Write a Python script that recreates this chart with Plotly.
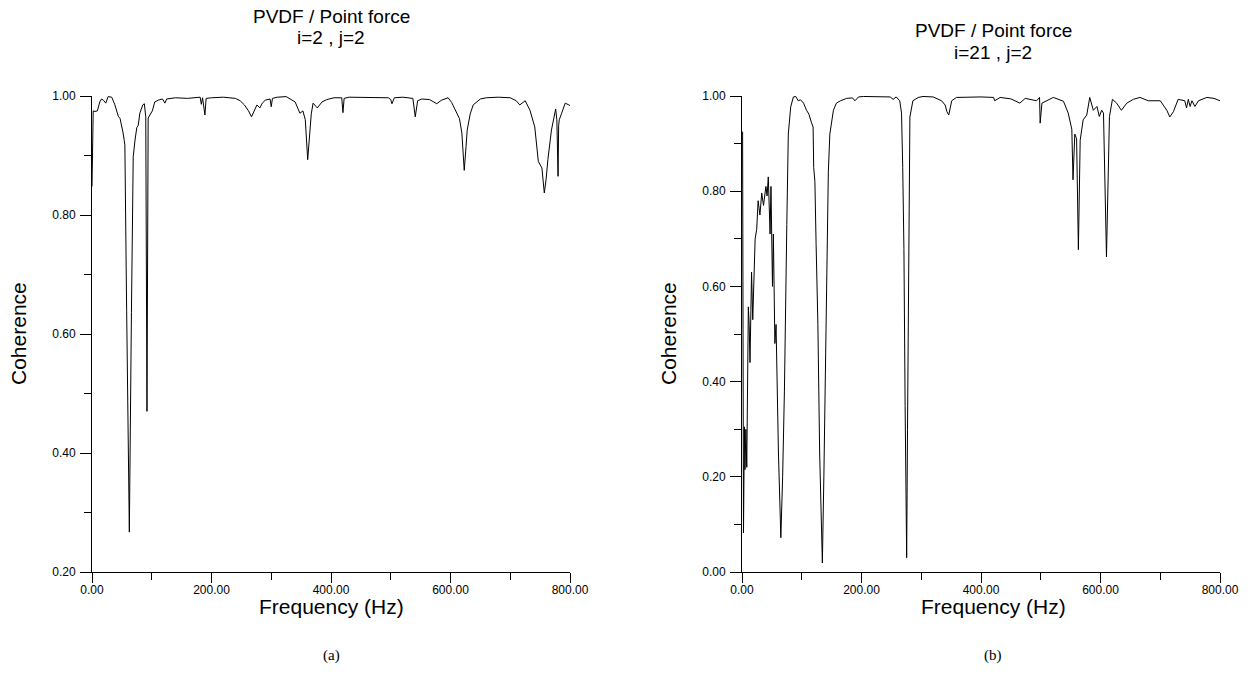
import plotly.graph_objects as go

# ---- data (a): PVDF / Point force, i=2, j=2 ----
freq_a = [0, 1, 2, 5, 9, 13, 16, 19, 23, 27, 33, 38, 44, 47, 50, 52, 54, 55, 58, 62.5, 66, 68, 68.5,
          69, 72, 75, 77.5, 80, 85, 87.6, 90, 92, 94, 97, 101, 105, 111, 118, 122, 125, 140, 160,
          181, 183, 185, 189, 191, 200, 220, 240, 248, 255, 262, 267, 272, 276, 281, 285, 290, 298,
          300, 302, 310, 325, 340, 348, 353, 357, 361, 364, 367, 370, 377, 385, 393, 405, 418, 420,
          422, 430, 450, 475, 496, 500, 502, 506, 520, 537, 541, 545, 552, 565, 577, 585, 596, 602,
          610, 615, 619, 623, 626, 628, 633, 638, 650, 660, 680, 700, 710, 716, 725, 733, 741, 747,
          753, 757, 760, 763, 769, 776, 778, 780, 781, 782, 786, 792, 798, 800]
coh_a = [0.848, 0.974, 0.975, 0.974, 0.975, 0.990, 0.995, 0.993, 0.988, 0.999, 0.998, 0.986, 0.966,
         0.962, 0.949, 0.938, 0.925, 0.918, 0.64, 0.267, 0.636, 0.82, 0.83,
         0.898, 0.926, 0.947, 0.951, 0.971, 0.985, 0.987, 0.965, 0.47, 0.963, 0.968, 0.975, 0.99,
         0.993, 0.995, 0.988, 0.995, 0.997, 0.996,
         0.998, 0.986, 0.997, 0.968, 0.996, 0.997, 0.998, 0.996, 0.992, 0.985, 0.975, 0.965, 0.978,
         0.985, 0.98, 0.988, 0.993, 0.995,
         0.982, 0.996, 0.998, 0.999, 0.99, 0.971, 0.975, 0.96, 0.893, 0.93, 0.97, 0.988, 0.98, 0.99,
         0.994, 0.997, 0.997, 0.972,
         0.996, 0.998, 0.998, 0.997, 0.997, 0.994, 0.987, 0.997, 0.998, 0.996, 0.965, 0.992, 0.995,
         0.994, 0.987, 0.993, 0.997, 0.989,
         0.974, 0.962, 0.938, 0.875, 0.915, 0.943, 0.97, 0.985, 0.995, 0.997, 0.998, 0.997, 0.992,
         0.985, 0.992, 0.976, 0.948, 0.89,
         0.879, 0.837, 0.86, 0.893, 0.943, 0.978, 0.96, 0.865, 0.95, 0.96, 0.971, 0.988, 0.985, 0.984]

# ---- data (b): PVDF / Point force, i=21, j=2 ----
freq_b = [1, 2.5, 4, 5, 6.5, 8, 10.6, 12, 13.4, 16, 18, 20, 22, 24.6, 27, 30, 33, 36, 40, 42, 44, 47,
          48.5, 51, 52.5, 55, 57, 61, 65, 68, 71, 75, 77.5, 81.5, 86, 90, 94, 98, 103, 108, 112, 116,
          119, 120, 122, 124, 127, 130, 134.5, 137, 139, 141.7, 144.5, 147, 150, 153, 158, 165, 175,
          185, 189, 195, 203, 230, 248, 253, 258, 264, 267, 269, 271, 273, 275.6, 277, 278.5, 281,
          286, 295, 303, 320, 334, 340, 343, 346, 351, 359, 400, 421, 423, 432, 450, 465, 474, 493,
          498, 499, 502, 510, 521, 538, 546, 552, 554, 557, 560, 563, 566, 571, 577, 582, 588, 594,
          598, 602, 605, 610, 615, 620, 627, 635, 644, 655, 666, 680, 700, 711, 716, 722, 730, 741,
          744, 747, 750, 753, 758, 764, 778, 790, 800]
coh_b = [0.925, 0.082, 0.305, 0.215, 0.30, 0.22, 0.557, 0.52, 0.44, 0.63, 0.53, 0.60, 0.70, 0.72,
         0.78, 0.75, 0.796, 0.77, 0.81, 0.79, 0.83, 0.71,
         0.81, 0.60, 0.71, 0.48, 0.52, 0.25, 0.072, 0.2, 0.38, 0.73, 0.92, 0.977, 0.998, 0.999, 0.99,
         0.992, 0.985, 0.97, 0.962, 0.945,
         0.935, 0.85, 0.82, 0.69, 0.52, 0.25, 0.019, 0.2, 0.38, 0.677, 0.84, 0.92, 0.95, 0.97, 0.985,
         0.99, 0.995,
         0.996, 0.99, 0.998, 0.999, 0.999, 0.998, 0.993, 0.998, 0.99, 0.964, 0.85, 0.68, 0.35, 0.03,
         0.3, 0.61, 0.956,
         0.99, 0.997, 0.999, 0.998, 0.99, 0.981, 0.967, 0.96, 0.99, 0.997, 0.998, 0.997, 0.99, 0.997,
         0.994, 0.985, 0.995, 0.99,
         0.997, 0.943, 0.985, 0.99, 0.997, 0.989, 0.964, 0.93, 0.824, 0.92, 0.91, 0.677, 0.907, 0.95,
         0.96, 0.997, 0.97, 0.978,
         0.957, 0.97, 0.964, 0.662, 0.957, 0.993, 0.985, 0.97, 0.985, 0.993, 0.997, 0.99, 0.99, 0.97,
         0.956, 0.967, 0.993, 0.99,
         0.975, 0.993, 0.978, 0.99, 0.978, 0.99, 0.997, 0.995, 0.99]

title_line1 = "PVDF / Point force"
title_a_line2 = "i=2 , j=2"
title_b_line2 = "i=21 , j=2"

W, H = 1254, 686
fig = go.Figure()
line = dict(color="black", width=1)
fig.add_trace(go.Scatter(x=freq_a, y=coh_a, mode="lines", line=line, xaxis="x", yaxis="y",
                         showlegend=False, hoverinfo="skip"))
fig.add_trace(go.Scatter(x=freq_b, y=coh_b, mode="lines", line=line, xaxis="x2", yaxis="y2",
                         showlegend=False, hoverinfo="skip"))

def px_x(p):
    return p / W

def px_y(p):
    return 1 - p / H

tickfont = dict(family="Arial, Liberation Sans", size=12, color="black")
xcommon = dict(range=[0, 800], dtick=200, tickformat=".2f", showline=True, linecolor="black",
               linewidth=1, ticks="outside", ticklen=10, tickcolor="black", tickfont=tickfont,
               showgrid=False, zeroline=False, fixedrange=True, automargin=False,
               ticklabelstandoff=-3,
               minor=dict(dtick=100, ticks="outside", ticklen=7, tickcolor="black", showgrid=False))
ycommon = dict(dtick=0.2, tickformat=".2f", showline=True, linecolor="black", linewidth=1,
               ticks="outside", ticklen=11, tickcolor="black", tickfont=tickfont,
               showgrid=False, zeroline=False, fixedrange=True, automargin=False,
               ticklabelstandoff=2,
               minor=dict(dtick=0.1, ticks="outside", ticklen=7, tickcolor="black", showgrid=False))

ydom = [px_y(572), px_y(96)]
fig.update_layout(
    width=W, height=H,
    margin=dict(l=0, r=0, t=0, b=0, autoexpand=False),
    paper_bgcolor="white", plot_bgcolor="white",
    xaxis=dict(domain=[px_x(92), px_x(570)], anchor="y", **xcommon),
    yaxis=dict(domain=ydom, range=[0.2, 1.0], anchor="x", tick0=0.2, **ycommon),
    xaxis2=dict(domain=[px_x(742), px_x(1220)], anchor="y2", **xcommon),
    yaxis2=dict(domain=ydom, range=[0.0, 1.0], anchor="x2", tick0=0, **ycommon),
)

big = dict(family="Arial, Liberation Sans", size=21, color="black")
ttl = dict(family="Arial, Liberation Sans", size=19, color="black")
cap = dict(family="Liberation Serif, Times New Roman", size=15, color="black")
ann = []
for cx, ty, l2, lab, ax_x in [(331, 17, title_a_line2, "(a)", 18), (993, 31, title_b_line2, "(b)", 668)]:
    ann.append(dict(x=px_x(cx), y=px_y(ty), xref="paper", yref="paper", text=title_line1,
                    showarrow=False, font=ttl, xanchor="center", yanchor="middle"))
    ann.append(dict(x=px_x(cx), y=px_y(ty + 21), xref="paper", yref="paper", text=l2,
                    showarrow=False, font=ttl, xanchor="center", yanchor="middle"))
    ann.append(dict(x=px_x(cx), y=px_y(606), xref="paper", yref="paper", text="Frequency (Hz)",
                    showarrow=False, font=big, xanchor="center", yanchor="middle"))
    ann.append(dict(x=px_x(ax_x), y=px_y(334), xref="paper", yref="paper", text="Coherence",
                    showarrow=False, font=big, textangle=-90, xanchor="center", yanchor="middle"))
    ann.append(dict(x=px_x(cx), y=px_y(655), xref="paper", yref="paper", text=lab,
                    showarrow=False, font=cap, xanchor="center", yanchor="middle"))
fig.update_layout(annotations=ann)

fig.write_html("out.html", config={"displayModeBar": False})
